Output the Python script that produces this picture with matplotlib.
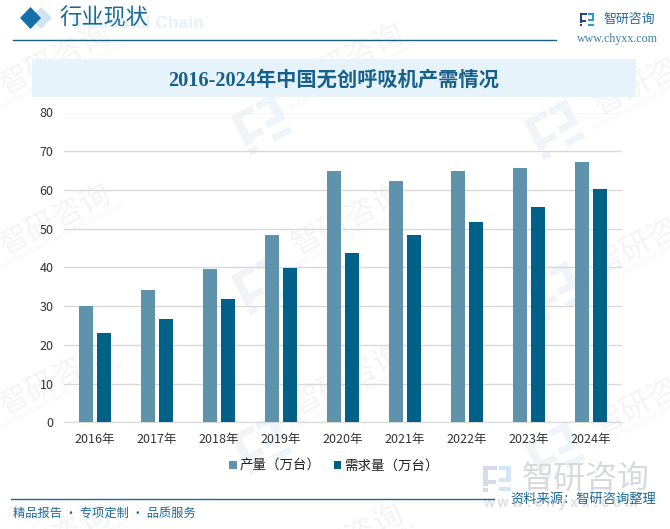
import matplotlib
matplotlib.use('Agg')
import matplotlib.pyplot as plt
from matplotlib.patches import Rectangle, Polygon
from matplotlib.transforms import Affine2D
import numpy as np

W, H = 670, 529
years = ['2016年','2017年','2018年','2019年','2020年','2021年','2022年','2023年','2024年']
output = [30.1, 34.2, 39.6, 48.4, 64.9, 62.3, 64.9, 65.7, 67.3]
demand = [23.1, 26.7, 31.9, 39.9, 43.7, 48.4, 51.8, 55.6, 60.3]
yticks = [0, 10, 20, 30, 40, 50, 60, 70, 80]
series_names = ['产量（万台）', '需求量（万台）']
title = '2016-2024年中国无创呼吸机产需情况'

CJK = ['Noto Sans CJK SC', 'DejaVu Sans']
SERIF = ['Liberation Serif', 'Noto Sans CJK SC']
plt.rcParams['font.family'] = CJK

fig = plt.figure(figsize=(W/100, H/100), dpi=100, facecolor='white')
bg = fig.add_axes([0, 0, 1, 1])
bg.set_xlim(0, W); bg.set_ylim(H, 0); bg.axis('off')


def logo(ax, cx, cy, s=1.0, angle=0.0, c1='#f1f3f7', c2='#edf5fa', z=0):
    """Brand mark built from blocks; angle in degrees, anticlockwise on screen."""
    tr = Affine2D().scale(s).rotate_deg(-angle).translate(cx, cy) + ax.transData
    left = [(-14, -13, 14, 4), (-14, -13, 5, 20), (-14, 1, 13, 4), (-14, 9, 5, 4)]
    right = [(2, -13, 12, 4), (9, -13, 5, 16), (2, -1, 12, 4), (2, 8, 12, 4)]
    for blocks, col in ((left, c1), (right, c2)):
        for (x, y, w, h) in blocks:
            ax.add_patch(Rectangle((x, y), w, h, fc=col, ec='none', transform=tr, zorder=z))


# watermarks
wm = '#f4f4f5'
for cx in (55, 348, 650):
    dy = 20 if cx == 650 else 0
    for cy in (60, 220, 380, 540):
        bg.text(cx, cy + dy, '智研咨询', fontsize=22, color=wm, rotation=27, ha='center', va='center',
                zorder=0, clip_on=True)
        bg.text(cx + 6, cy + dy + 17, 'INTELLIGENCE RESEARCH GROUP', fontsize=6, color=wm, rotation=27,
                ha='center', va='center', zorder=0, clip_on=True,
                family='Liberation Sans')
for (cx, cy) in [(262, 125), (262, 285), (262, 445), (555, 130), (555, 292), (555, 452)]:
    logo(bg, cx, cy, s=1.7, angle=27)

# header
bg.text(72, 23, 'Industrial Chain', fontsize=12.5, color='#e3f1fa', weight='bold', family='Liberation Sans',
        va='center', zorder=1)
bg.add_patch(Polygon([(41, 7), (52, 18), (41, 29), (30, 18)], fc='#d2e3ee', ec='none', zorder=2))
bg.add_patch(Polygon([(30.5, 7), (41, 18), (30.5, 29), (20, 18)], fc='#1470a8', ec='none', zorder=3))
bg.text(59, 18, '行业现状', fontsize=16, color='#1a6a96', va='center', weight='medium', zorder=3)
bg.plot([13, 556], [39.5, 39.5], color='#1a5f87', lw=1.0, zorder=3)

# logo top-right
logo(bg, 587, 19.5, s=0.52, c1='#2a3f86', c2='#2a9ad6', z=3)
bg.text(603, 19, '智研咨询', fontsize=9.3, color='#1f6a9c', va='center')
bg.text(577, 39, 'www.chyxx.com', fontsize=8.6, color='#3d7ea6', va='center', family='Liberation Serif')

# title band
bg.add_patch(Rectangle((32, 59), 604, 38, fc='#e6f3fb', ec='none', zorder=2))
bg.text(334, 81, title, fontsize=14.6, color='#17608c', weight='bold', ha='center', va='center',
        family=SERIF, zorder=3)

# footer
bg.plot([11, 494], [498.5, 498.5], color='#1a6a9c', lw=1.0, zorder=3)
bg.text(13, 513, '精品报告 · 专项定制 · 品质服务', fontsize=8.8, color='#1a6a9c', va='center')
logo(bg, 497, 479, s=1.0, c1='#d5dbe8', c2='#d3e6f3', z=1)
bg.text(522, 479, '智研咨询', fontsize=23, color='#d8d9db', va='center', zorder=1)
bg.text(483, 503, 'w w w . c h y x x . c o m', fontsize=10, color='#dcdee0', va='center', zorder=1,
        family='Liberation Sans', weight='bold')
bg.text(510, 499, '资料来源：智研咨询整理', fontsize=9.5, color='#1a6a9c', va='center', zorder=4)

# plot
ax = fig.add_axes([64/W, 1-422.3/H, (621.7-64)/W, (422.3-112.5)/H])
ax.patch.set_alpha(0)
x = np.arange(len(years))
bw = 14/62
off = 9/62
ax.bar(x-off, output, bw, color='#5f93ab', label=series_names[0], zorder=3)
ax.bar(x+off, demand, bw, color='#006188', label=series_names[1], zorder=3)
ax.set_xlim(-0.5, len(years)-0.5)
ax.set_ylim(0, 80)
ax.set_yticks(yticks)
ax.set_xticks(x, years)
ax.grid(axis='y', color='#d9d9d9', lw=1, zorder=1)
ax.tick_params(length=0, labelsize=9, labelcolor='#333333')
ax.tick_params(axis='x', pad=8)
ax.tick_params(axis='y', pad=7.5)
for s in ['top', 'left', 'right']:
    ax.spines[s].set_visible(False)
ax.spines['bottom'].set_color('#d9d9d9')
ax.legend(loc='center', bbox_to_anchor=(334/W, 1-466/H), bbox_transform=fig.transFigure, ncol=2, frameon=False,
          fontsize=9.7, handlelength=0.55, handleheight=0.55, handletextpad=0.2, columnspacing=1.0,
          labelcolor='#222222')

fig.savefig('out.png', dpi=100)
